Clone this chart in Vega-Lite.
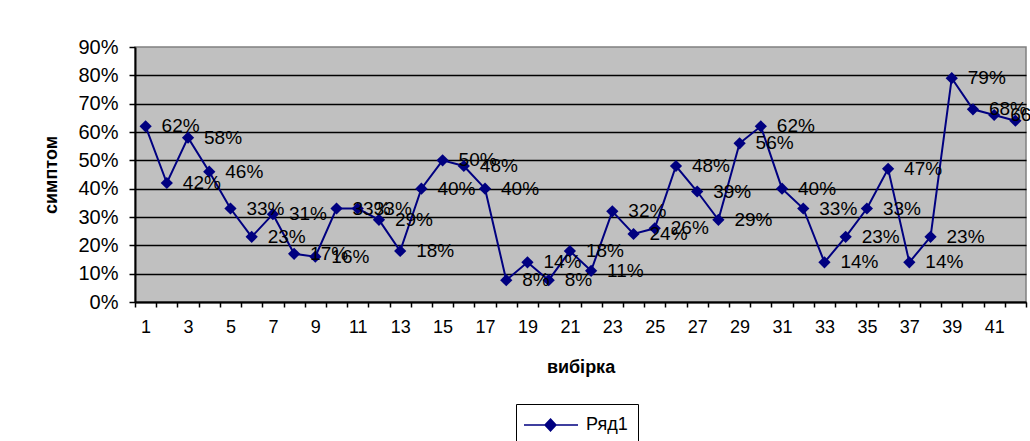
{
  "$schema": "https://vega.github.io/schema/vega-lite/v6.json",
  "width": 891,
  "height": 255,
  "autosize": {"type": "none"},
  "padding": {"left": 135, "top": 47, "right": 4, "bottom": 139},
  "background": "white",
  "config": {
    "font": "Liberation Sans",
    "view": {"fill": "#C0C0C0", "stroke": "#808080", "strokeWidth": 1.5}
  },
  "data": {
    "values": [
      {"n": 1, "v": 0.62}, {"n": 2, "v": 0.42}, {"n": 3, "v": 0.58}, {"n": 4, "v": 0.46},
      {"n": 5, "v": 0.33}, {"n": 6, "v": 0.23}, {"n": 7, "v": 0.31}, {"n": 8, "v": 0.17},
      {"n": 9, "v": 0.16}, {"n": 10, "v": 0.33}, {"n": 11, "v": 0.33}, {"n": 12, "v": 0.29},
      {"n": 13, "v": 0.18}, {"n": 14, "v": 0.40}, {"n": 15, "v": 0.50}, {"n": 16, "v": 0.48},
      {"n": 17, "v": 0.40}, {"n": 18, "v": 0.077}, {"n": 19, "v": 0.14}, {"n": 20, "v": 0.077},
      {"n": 21, "v": 0.18}, {"n": 22, "v": 0.11}, {"n": 23, "v": 0.32}, {"n": 24, "v": 0.24},
      {"n": 25, "v": 0.26}, {"n": 26, "v": 0.48}, {"n": 27, "v": 0.39}, {"n": 28, "v": 0.29},
      {"n": 29, "v": 0.56}, {"n": 30, "v": 0.62}, {"n": 31, "v": 0.40}, {"n": 32, "v": 0.33},
      {"n": 33, "v": 0.14}, {"n": 34, "v": 0.23}, {"n": 35, "v": 0.33}, {"n": 36, "v": 0.47},
      {"n": 37, "v": 0.14}, {"n": 38, "v": 0.23}, {"n": 39, "v": 0.79}, {"n": 40, "v": 0.68},
      {"n": 41, "v": 0.66}, {"n": 42, "v": 0.64}
    ]
  },
  "encoding": {
    "x": {
      "field": "n",
      "type": "quantitative",
      "scale": {"domain": [0.5, 42.5], "nice": false, "zero": false},
      "axis": {
        "title": "вибірка",
        "titleFont": "Liberation Sans",
        "titleFontSize": 18,
        "titleFontWeight": "bold",
        "titleColor": "black",
        "titlePadding": 22,
        "values": [0.5, 1, 1.5, 2.5, 3, 3.5, 4.5, 5, 5.5, 6.5, 7, 7.5, 8.5, 9, 9.5, 10.5, 11, 11.5, 12.5, 13, 13.5, 14.5, 15, 15.5, 16.5, 17, 17.5, 18.5, 19, 19.5, 20.5, 21, 21.5, 22.5, 23, 23.5, 24.5, 25, 25.5, 26.5, 27, 27.5, 28.5, 29, 29.5, 30.5, 31, 31.5, 32.5, 33, 33.5, 34.5, 35, 35.5, 36.5, 37, 37.5, 38.5, 39, 39.5, 40.5, 41, 41.5, 42.5],
        "labelExpr": "datum.value % 2 === 1 ? format(datum.value, 'd') : ''",
        "labelOverlap": false,
        "labelFlush": false,
        "labelFontSize": 18,
        "labelColor": "black",
        "labelPadding": 11,
        "tickSize": 5,
        "tickColor": "black",
        "tickWidth": 1.5,
        "tickOpacity": {"condition": {"test": "datum.value % 1 !== 0", "value": 1}, "value": 0},
        "domainColor": "black",
        "domainWidth": 2,
        "grid": false
      }
    },
    "y": {
      "field": "v",
      "type": "quantitative",
      "scale": {"domain": [0, 0.9], "nice": false},
      "axis": {
        "title": "симптом",
        "titleFont": "Liberation Sans",
        "titleFontSize": 18,
        "titleFontWeight": "bold",
        "titleColor": "black",
        "titlePadding": 17,
        "values": [0, 0.1, 0.2, 0.3, 0.4, 0.5, 0.6, 0.7, 0.8, 0.9],
        "format": ".0%",
        "labelFontSize": 20,
        "labelColor": "black",
        "labelPadding": 11,
        "tickSize": 6,
        "tickColor": "black",
        "tickWidth": 1.5,
        "domainColor": "black",
        "domainWidth": 2,
        "grid": true,
        "gridColor": "black",
        "gridWidth": 1.5,
        "gridOpacity": {"condition": {"test": "datum.value > 0.85", "value": 0}, "value": 1}
      }
    }
  },
  "layer": [
    {
      "mark": {"type": "line", "strokeWidth": 2},
      "encoding": {
        "color": {
          "datum": "Ряд1",
          "scale": {"range": ["#000080"]},
          "legend": {
            "orient": "none",
            "legendX": 381,
            "legendY": 357,
            "title": null,
            "padding": 10,
            "strokeColor": "black",
            "fillColor": "white",
            "symbolType": "M-1.3,0L4.1,0M1.35,-0.6L1.9,0L1.35,0.6L0.8,0Z",
            "symbolSize": 400,
            "symbolStrokeWidth": 1.5,
            "symbolFillColor": "#000080",
            "symbolStrokeColor": "#000080",
            "labelOffset": 38,
            "labelFontSize": 18,
            "labelColor": "black",
            "labelFont": "Liberation Sans",
            "encode": {
              "symbols": {
                "update": {
                  "shape": {"value": "M-1.3,0L4.1,0M1.35,-0.6L1.9,0L1.35,0.6L0.8,0Z"},
                  "fill": {"value": "#000080"},
                  "stroke": {"value": "#000080"},
                  "strokeWidth": {"value": 1.5},
                  "opacity": {"value": 1}
                }
              }
            }
          }
        }
      }
    },
    {
      "mark": {"type": "point", "shape": "diamond", "filled": true, "size": 150, "opacity": 1},
      "encoding": {"color": {"datum": "Ряд1"}}
    },
    {
      "mark": {"type": "text", "align": "left", "baseline": "middle", "dx": 16, "fontSize": 19, "color": "black"},
      "encoding": {"text": {"field": "v", "type": "quantitative", "format": ".0%"}}
    }
  ]
}
